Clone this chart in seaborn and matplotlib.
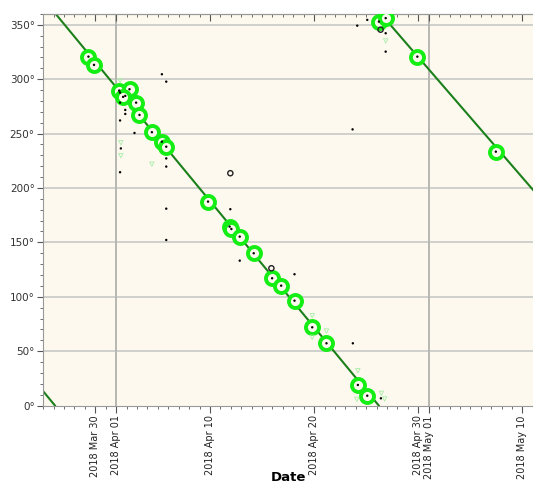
import numpy as np
import pandas as pd
import matplotlib
matplotlib.use("Agg")
import matplotlib.pyplot as plt
import matplotlib.dates as mdates
import matplotlib.ticker as mticker
import seaborn as sns

# ---------------- data ----------------
fit_dates = ['2018-03-29 08:10', '2018-03-29 21:00', '2018-04-01 07:00', '2018-04-02 06:45',
             '2018-04-01 16:00', '2018-04-02 22:00', '2018-04-03 05:45', '2018-04-04 10:20',
             '2018-04-05 09:20', '2018-04-05 19:25', '2018-04-09 19:40', '2018-04-11 21:20',
             '2018-04-12 01:25', '2018-04-12 20:40', '2018-04-14 04:50', '2018-04-15 23:15',
             '2018-04-16 20:10', '2018-04-18 02:50', '2018-04-19 19:40', '2018-04-21 04:30',
             '2018-04-24 04:50', '2018-04-25 02:25', '2018-04-26 05:15', '2018-04-26 20:50',
             '2018-04-29 21:50', '2018-05-07 10:35']
fit_angles = [320.8, 313.2, 289.6, 290.8, 283.8, 278.5, 267.2, 251.3, 242.6, 238.0,
              187.5, 164.5, 162.3, 155.3, 140.0, 117.0, 110.2, 96.4, 71.9, 57.2,
              18.9, 9.0, 353.0, 356.2, 320.8, 233.4]

dot_dates = ['2018-04-05 09:20', '2018-04-05 19:25', '2018-04-01 09:00', '2018-04-01 21:00',
             '2018-04-01 09:00', '2018-04-01 21:00', '2018-04-01 21:00', '2018-04-01 09:00',
             '2018-04-02 18:15', '2018-04-01 10:50', '2018-04-01 09:00', '2018-04-05 19:25',
             '2018-04-05 19:25', '2018-04-05 19:25', '2018-04-05 19:25', '2018-04-11 23:00',
             '2018-04-12 20:40', '2018-04-18 02:50', '2018-04-23 17:15', '2018-04-26 09:50',
             '2018-04-24 03:20', '2018-04-25 02:25', '2018-04-26 20:50', '2018-04-26 20:50',
             '2018-04-23 16:35']
dot_angles = [304.6, 297.8, 287.7, 284.7, 278.5, 271.8, 268.1, 262.1, 250.6, 236.4,
              214.5, 227.2, 219.7, 181.0, 152.2, 180.5, 133.2, 120.7, 57.2, 6.6,
              349.3, 354.6, 342.3, 325.4, 253.9]

open_dates = ['2018-04-11 23:00', '2018-04-15 21:35', '2018-04-26 09:05']
open_angles = [213.6, 126.2, 345.6]

faint_dates = ['2018-04-01 09:00', '2018-04-01 10:50', '2018-04-01 10:50', '2018-04-04 10:20',
               '2018-04-24 04:50', '2018-04-26 10:50', '2018-04-26 18:30', '2018-04-26 20:50',
               '2018-04-19 19:40', '2018-04-21 04:30', '2018-04-19 19:40', '2018-04-24 02:25']
faint_angles = [298.8, 241.7, 229.8, 221.9, 32.0, 11.2, 6.0, 335.2, 82.6, 68.5, 62.7, 5.7]

line_seg = [0, 0, 1, 1, 2, 2]
line_dates = ['2018-03-24 21:00', '2018-03-26 03:00', '2018-03-26 04:50',
              '2018-04-26 04:50', '2018-04-26 10:00', '2018-05-11 03:00']
line_angles = [14.5, 0.0, 360.0, 0.0, 360.0, 197.0]

labeled_tick_dates = ['2018-03-30', '2018-04-01', '2018-04-10', '2018-04-20',
                      '2018-04-30', '2018-05-01', '2018-05-10']
month_grid_dates = ['2018-04-01', '2018-05-01']
x_range = ['2018-03-24 23:30', '2018-05-11 02:30']
y_range = [0, 360]

# ---------------- frames ----------------
fits = pd.DataFrame({'date': pd.to_datetime(fit_dates), 'angle': fit_angles})
dots = pd.DataFrame({'date': pd.to_datetime(dot_dates + fit_dates), 'angle': dot_angles + fit_angles})
opens = pd.DataFrame({'date': pd.to_datetime(open_dates), 'angle': open_angles})
faint = pd.DataFrame({'date': pd.to_datetime(faint_dates), 'angle': faint_angles})
lines = pd.DataFrame({'date': pd.to_datetime(line_dates), 'angle': line_angles, 'seg': line_seg})

BG = '#fdf9ee'
LIME = '#14ee14'
LINE = '#1b801b'

plt.rcParams['font.family'] = ['DejaVu Sans']
fig = plt.figure(figsize=(5.33, 4.84), dpi=100)
ax = fig.add_axes([43 / 533, (484 - 405.5) / 484, 491 / 533, 391.5 / 484])
ax.set_facecolor(BG)

# grid
for yv in range(50, 360, 50):
    ax.axhline(yv, color='#cfcfcc', lw=1.4, zorder=0)
for d in pd.to_datetime(month_grid_dates):
    ax.axvline(d, color='#b8b8b2', lw=1.4, zorder=0)

sns.lineplot(data=lines, x='date', y='angle', units='seg', estimator=None,
             color=LINE, lw=1.5, ax=ax, zorder=2, legend=False)
sns.scatterplot(data=fits, x='date', y='angle', ax=ax, s=88, facecolor=BG,
                edgecolor=LIME, linewidth=2.8, zorder=3, legend=False)
sns.scatterplot(data=dots, x='date', y='angle', ax=ax, s=3, color='black',
                edgecolor='none', zorder=4, legend=False)
sns.scatterplot(data=opens, x='date', y='angle', ax=ax, s=14, facecolor='none',
                edgecolor='#222222', linewidth=1.0, zorder=4, legend=False)
sns.scatterplot(data=faint, x='date', y='angle', ax=ax, s=10, marker='v', facecolor='none',
                edgecolor='#a8eea8', linewidth=0.6, zorder=4, legend=False)

ax.set_xlim(pd.to_datetime(x_range[0]), pd.to_datetime(x_range[1]))
ax.set_ylim(*y_range)

ax.xaxis.set_major_locator(mticker.FixedLocator(mdates.date2num(pd.to_datetime(labeled_tick_dates))))
ax.xaxis.set_major_formatter(mdates.DateFormatter('%Y %b %d'))
ax.xaxis.set_minor_locator(mdates.DayLocator())
ax.yaxis.set_major_locator(mticker.MultipleLocator(50))
ax.yaxis.set_minor_locator(mticker.MultipleLocator(10))
ax.yaxis.set_major_formatter(mticker.FuncFormatter(lambda v, p: f"{v:.0f}°"))

ax.tick_params(axis='x', which='major', length=5, width=0.8, color='#555555',
               labelsize=7, labelrotation=90, pad=2, top=False)
ax.tick_params(axis='x', which='minor', length=2.5, width=0.6, color='#555555', top=False)
ax.tick_params(axis='y', which='major', length=4, width=0.8, color='#555555', labelsize=7.5, pad=2)
ax.tick_params(axis='y', which='minor', length=2, width=0.6, color='#555555')
for lab in ax.get_xticklabels():
    lab.set_color('#222222')
for lab in ax.get_yticklabels():
    lab.set_color('#333333')

sec = ax.secondary_xaxis('top')
sec.xaxis.set_major_locator(mticker.FixedLocator(mdates.date2num(pd.to_datetime(labeled_tick_dates))))
sec.xaxis.set_minor_locator(mdates.DayLocator())
sec.xaxis.set_major_formatter(mticker.NullFormatter())
sec.tick_params(which='major', direction='in', length=5, width=0.8, color='#555555')
sec.tick_params(which='minor', direction='in', length=2.5, width=0.6, color='#555555')
sec.spines['top'].set_color('#999999')

for side in ['left', 'bottom', 'top']:
    ax.spines[side].set_color('#999999')
    ax.spines[side].set_linewidth(0.8)
ax.spines['right'].set_visible(False)

ax.set_ylabel('')
ax.set_xlabel('Date', fontsize=9.5, fontweight='bold')
ax.xaxis.set_label_coords(0.5, -0.167)
ax.xaxis.label.set_va('top')

fig.savefig('out.png', dpi=100, facecolor='white')
